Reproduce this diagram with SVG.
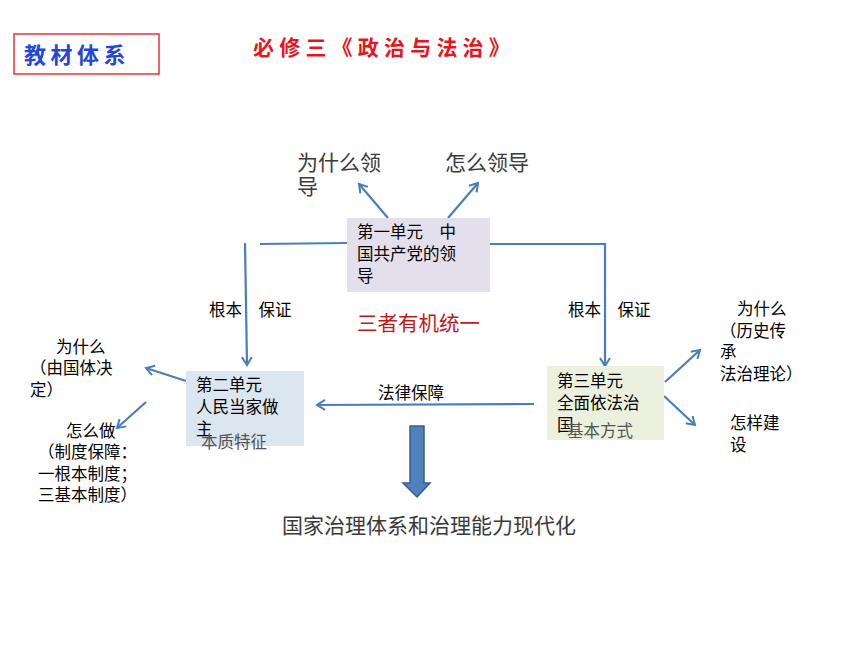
<svg xmlns="http://www.w3.org/2000/svg" width="860" height="645" viewBox="0 0 860 645">
<defs>
<style>
text{font-family:"Noto Sans CJK SC","Liberation Sans",sans-serif;}
.t{font-size:16.5px;fill:#000;}
.g{font-size:21px;fill:#3a3a3a;}
.s{font-size:16.5px;fill:#555;}
.c{stroke:#4a7ebb;stroke-width:2.2;fill:none;}
</style>
<marker id="ah" viewBox="0 0 12 12" refX="10" refY="6" markerWidth="12" markerHeight="12" markerUnits="userSpaceOnUse" orient="auto">
<polyline points="2,1 10,6 2,11" fill="none" stroke="#4a7ebb" stroke-width="2"/>
</marker>
</defs>
<rect width="860" height="645" fill="#fff"/>
<g id="header">
<rect x="14" y="34" width="145" height="40" fill="#fff" stroke="#e8333a" stroke-width="1.5"/>
<text x="24" y="63" style="font-size:22px;font-weight:bold;fill:#2347d8;letter-spacing:4.5px">教材体系</text>
<text x="253" y="55" style="font-size:21px;font-weight:bold;fill:#e8141a;letter-spacing:5.2px">必修三《政治与法治》</text>
</g>
<g id="connectors">
<line class="c" x1="388" y1="218" x2="359" y2="184" marker-end="url(#ah)"/>
<line class="c" x1="448" y1="218" x2="478" y2="183" marker-end="url(#ah)"/>
<line class="c" x1="260" y1="244" x2="347" y2="243"/>
<line class="c" x1="245" y1="243" x2="247" y2="365" marker-end="url(#ah)"/>
<polyline class="c" points="490,244 605,244 605,366" marker-end="url(#ah)"/>
<line class="c" x1="534" y1="404" x2="317" y2="405" marker-end="url(#ah)"/>
<line class="c" x1="186" y1="381" x2="146" y2="368" marker-end="url(#ah)"/>
<line class="c" x1="146" y1="402" x2="117" y2="428" marker-end="url(#ah)"/>
<line class="c" x1="665" y1="382" x2="700" y2="350" marker-end="url(#ah)"/>
<line class="c" x1="664" y1="396" x2="695" y2="425" marker-end="url(#ah)"/>
<path d="M410,426 H424 V483 H430 L417,497 L403,483 H410 Z" fill="#4f81bd" stroke="#385d8a" stroke-width="1.5"/>
</g>
<g id="unit1">
<rect x="347" y="218" width="143" height="74" fill="#e4dfec"/>
<text class="t" x="357" y="238">第一单元　中</text>
<text class="t" x="357" y="260">国共产党的领</text>
<text class="t" x="357" y="282">导</text>
</g>
<g id="why-lead">
<text class="g" x="297" y="170">为什么领</text>
<text class="g" x="297" y="194">导</text>
</g>
<g id="how-lead">
<text class="g" x="445" y="170">怎么领导</text>
</g>
<g id="labels">
<text class="t" x="209" y="316">根本　保证</text>
<text class="t" x="568" y="316">根本　保证</text>
<text x="357" y="331" style="font-size:20.5px;fill:#c0191a">三者有机统一</text>
<text class="t" x="378" y="399">法律保障</text>
</g>
<g id="unit2">
<rect x="186" y="371" width="118" height="75" fill="#dce6f1"/>
<text class="t" x="196" y="391">第二单元</text>
<text class="t" x="196" y="413">人民当家做</text>
<text class="t" x="196" y="435">主</text>
<text class="s" x="201" y="448">本质特征</text>
</g>
<g id="unit3">
<rect x="547" y="366" width="117" height="74" fill="#ebf1de"/>
<text class="t" x="557" y="387">第三单元</text>
<text class="t" x="557" y="409">全面依法治</text>
<text class="t" x="557" y="431">国</text>
<text class="s" x="567" y="437">基本方式</text>
</g>
<g id="why2">
<text class="t" x="56" y="353">为什么</text>
<text class="t" x="30" y="374">（由国体决</text>
<text class="t" x="30" y="396">定）</text>
</g>
<g id="how2">
<text class="t" x="66" y="437">怎么做</text>
<text class="t" x="38" y="458">（制度保障：</text>
<text class="t" x="38" y="480">一根本制度；</text>
<text class="t" x="38" y="501">三基本制度）</text>
</g>
<g id="why3">
<text class="t" x="737" y="315">为什么</text>
<text class="t" x="720" y="337">（历史传</text>
<text class="t" x="720" y="358">承</text>
<text class="t" x="720" y="380">法治理论）</text>
</g>
<g id="how3">
<text class="t" x="730" y="429">怎样建</text>
<text class="t" x="730" y="451">设</text>
</g>
<g id="goal">
<text class="g" x="282" y="533">国家治理体系和治理能力现代化</text>
</g>
</svg>
